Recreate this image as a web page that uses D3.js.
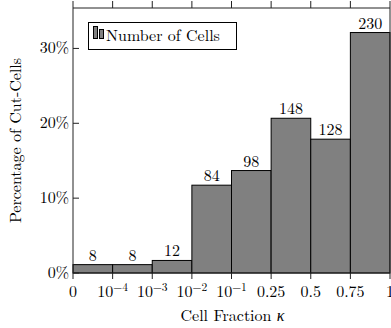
<!doctype html>
<html lang="en">
<head>
<meta charset="utf-8">
<script src="https://cdn.jsdelivr.net/npm/d3@7"></script>
<style>
  body {margin:0; background:#fff}
  svg {display:block}
</style>
</head>
<body>
<script>
// histogram bins of cell fraction kappa
const bins = ["0-1e-4", "1e-4-1e-3", "1e-3-1e-2", "1e-2-1e-1", "1e-1-0.25", "0.25-0.5", "0.5-0.75", "0.75-1"];
const counts = [8, 8, 12, 84, 98, 148, 128, 230];
// boundary labels: [base, exponent]
const edgeLabels = [["0", ""], ["10", "\u22124"], ["10", "\u22123"], ["10", "\u22122"], ["10", "\u22121"], ["0.25", ""], ["0.5", ""], ["0.75", ""], ["1", ""]];
const yTicks = [0, 10, 20, 30];

const total = d3.sum(counts);
const pct = counts.map(c => c / total * 100);

const W = 391, H = 328;
const pLeft = 73, pRight = 390, pTop = 8, pBottom = 273;
const FONT = "'Latin Modern Roman', 'Liberation Serif', serif";
const FS = "16px";

const svg = d3.select("body").append("svg").attr("width", W).attr("height", H)
  .style("font-family", FONT);

const x = d3.scaleLinear().domain([0, bins.length]).range([pLeft, pRight]);
const y = d3.scaleLinear().domain([0, 35.4]).range([pBottom, pTop]);

// bars
svg.selectAll("rect.bar")
  .data(pct)
  .enter().append("rect")
  .attr("class", "bar")
  .attr("x", (d, i) => x(i))
  .attr("width", (d, i) => x(i + 1) - x(i))
  .attr("y", d => y(d))
  .attr("height", d => y(0) - y(d))
  .attr("fill", "#808080")
  .attr("stroke", "#000")
  .attr("stroke-width", 1);

// counts above bars
svg.selectAll("text.cnt")
  .data(counts)
  .enter().append("text")
  .attr("class", "cnt")
  .attr("x", (d, i) => (x(i) + x(i + 1)) / 2)
  .attr("y", (d, i) => y(pct[i]) - 4)
  .attr("text-anchor", "middle")
  .style("font-family", FONT)
  .style("font-size", FS)
  .text(d => d);

// frame
const frame = svg.append("g").attr("stroke", "#222").attr("stroke-width", 1).attr("fill", "none");
frame.append("line").attr("x1", pLeft).attr("x2", pLeft).attr("y1", pTop).attr("y2", pBottom);
frame.append("line").attr("x1", pRight).attr("x2", pRight).attr("y1", pTop).attr("y2", pBottom);
frame.append("line").attr("x1", pLeft).attr("x2", pRight).attr("y1", pTop).attr("y2", pTop);
frame.append("line").attr("x1", pLeft).attr("x2", pRight).attr("y1", pBottom).attr("y2", pBottom);

// x ticks (bottom and top, outward)
const edges = d3.range(bins.length + 1);
svg.append("g").selectAll("line")
  .data(edges).enter().append("line")
  .attr("x1", d => x(d)).attr("x2", d => x(d))
  .attr("y1", pBottom).attr("y2", pBottom + 6)
  .attr("stroke", "#222");
svg.append("g").selectAll("line")
  .data(edges).enter().append("line")
  .attr("x1", d => x(d)).attr("x2", d => x(d))
  .attr("y1", pTop).attr("y2", pTop - 7)
  .attr("stroke", "#222");

const xl = svg.append("g").selectAll("text")
  .data(edgeLabels).enter().append("text")
  .attr("x", (d, i) => x(i))
  .attr("y", 297)
  .attr("text-anchor", "middle")
  .style("font-family", FONT)
  .style("font-size", FS);
xl.append("tspan").text(d => d[0]);
xl.filter(d => d[1]).append("tspan")
  .attr("dy", -6)
  .style("font-size", "11.5px")
  .text(d => d[1]);

// y ticks (inward)
svg.append("g").selectAll("line")
  .data(yTicks).enter().append("line")
  .attr("x1", pLeft).attr("x2", pLeft + 6)
  .attr("y1", d => y(d)).attr("y2", d => y(d))
  .attr("stroke", "#222");
svg.append("g").selectAll("text")
  .data(yTicks).enter().append("text")
  .attr("x", pLeft - 4)
  .attr("y", d => y(d) + 5)
  .attr("text-anchor", "end")
  .style("font-family", FONT)
  .style("font-size", FS)
  .text(d => d + "%");

// axis titles
const xt = svg.append("text")
  .attr("x", (pLeft + pRight) / 2 + 1)
  .attr("y", 321)
  .attr("text-anchor", "middle")
  .style("font-family", FONT)
  .style("font-size", FS);
xt.append("tspan").text("Cell Fraction ");
xt.append("tspan").style("font-style", "italic").text("\u03ba");

svg.append("text")
  .attr("transform", "translate(21," + ((pTop + pBottom) / 2) + ") rotate(-90)")
  .attr("text-anchor", "middle")
  .style("font-family", FONT)
  .style("font-size", FS)
  .text("Percentage of Cut-Cells");

// legend
const lg = svg.append("g");
lg.append("rect")
  .attr("x", 88.5).attr("y", 22.5).attr("width", 148).attr("height", 27)
  .attr("fill", "#fff").attr("stroke", "#000");
lg.append("rect")
  .attr("x", 93.5).attr("y", 26.5).attr("width", 4).attr("height", 12)
  .attr("fill", "#808080").attr("stroke", "#000");
lg.append("rect")
  .attr("x", 99.5).attr("y", 29.5).attr("width", 4).attr("height", 9)
  .attr("fill", "#808080").attr("stroke", "#000");
lg.append("text")
  .attr("x", 106).attr("y", 41)
  .style("font-family", FONT)
  .style("font-size", FS)
  .text("Number of Cells");
</script>
</body>
</html>
